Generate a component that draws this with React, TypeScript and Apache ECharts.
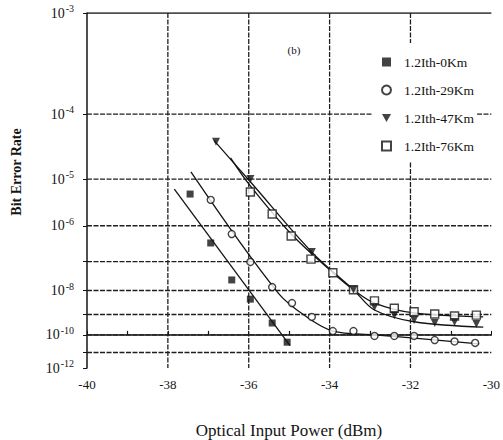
import React, { useEffect, useRef } from "react";
import * as echarts from "echarts";

// BER axis: decades 10^-n; ordinate drawn on a log(log(-log BER)) scale
const yTickDecades = [3, 4, 5, 6, 7, 8, 9, 10, 11, 12];
const yLabelDecades = [3, 4, 5, 6, 8, 10, 12];
const yGridDecades = [4, 5, 6, 7, 8, 9, 10, 11];
const xGridValues = [-38, -36, -34, -32];

// measured points: optical input power (dBm) and log10(BER)
const p0 = [-37.45, -36.94, -36.42, -35.96, -35.42, -35.05];
const b0 = [-5.29, -6.45, -7.61, -8.34, -9.4, -10.4];

const p29 = [-36.94, -36.42, -35.96, -35.42, -34.93, -34.44, -33.92, -33.41, -32.89, -32.4, -31.91, -31.4, -30.91, -30.4];
const b29 = [-5.41, -6.21, -7.01, -7.87, -8.5, -9.11, -9.8, -9.8, -10.06, -10.06, -10.06, -10.28, -10.36, -10.44];

const p47 = [-36.81, -35.96, -34.44, -33.41, -32.89, -32.4, -31.91, -31.4, -30.91, -30.37];
const b47 = [-4.38, -5.0, -6.71, -7.97, -8.67, -9.03, -9.26, -9.4, -9.35, -9.45];

const p76 = [-35.96, -35.42, -34.95, -34.46, -33.92, -33.41, -32.89, -32.4, -31.91, -31.4, -30.91, -30.37];
const b76 = [-5.25, -5.72, -6.26, -6.92, -7.36, -7.97, -8.41, -8.72, -8.88, -8.98, -9.07, -9.03];

// fitted curves
const fp0 = [-37.84, -34.98];
const fb0 = [-5.19, -10.6];
const fp29 = [-37.43, -35.27, -34.53, -33.92, -32.89, -31.35, -30.3];
const fb29 = [-4.87, -8.1, -9.16, -9.8, -10.0, -10.28, -10.5];
const fp47 = [-36.86, -35.96, -34.44, -33.41, -32.89, -31.91, -30.2];
const fb47 = [-4.36, -5.05, -6.71, -7.97, -8.8, -9.34, -9.6];
const fp76 = [-36.45, -35.96, -34.95, -33.92, -33.41, -32.89, -31.91, -30.2];
const fb76 = [-4.63, -5.13, -6.21, -7.36, -7.97, -8.5, -8.93, -9.11];

const names = ["1.2Ith-0Km", "1.2Ith-29Km", "1.2Ith-47Km", "1.2Ith-76Km"];

const X_MIN = -40;
const X_MAX = -30;

const tr = (n: number) => Math.log10(Math.log10(n)); // n = -log10(BER)
const yv = (e: number) => tr(-e);
const pts = (p: number[], b: number[]) => p.map((x, i) => [x, yv(b[i])]);

const SERIF = "'Liberation Serif', 'DejaVu Serif', serif";
const INK = "#141414";
const gridStyle = { color: "#1e1e1e", width: 1.3, type: [5, 1.5] as any };

export default function App() {
  const ref = useRef<HTMLDivElement>(null);
  useEffect(() => {
    if (!ref.current) return;
    const chart = echarts.init(ref.current, null, { renderer: "svg" });
    const fitLine = (name: string, p: number[], b: number[]) => ({
      name,
      type: "line",
      data: pts(p, b),
      showSymbol: false,
      symbol: "none",
      smooth: 0.35,
      lineStyle: { color: INK, width: 1.3 },
      silent: true,
      z: 3,
    });
    const rule = (name: string, data: number[][], style: any) => ({
      name,
      type: "line",
      data,
      symbol: "none",
      showSymbol: false,
      silent: true,
      lineStyle: style,
      z: 1,
    });
    const rules = [
      ...yGridDecades.map((n) =>
        rule("h" + n, [[X_MIN, tr(n)], [X_MAX, tr(n)]], gridStyle)
      ),
      rule("top", [[X_MIN, tr(3)], [X_MAX, tr(3)]], { color: INK, width: 1.5, type: "solid" }),
      ...xGridValues.map((x) =>
        rule("v" + x, [[x, tr(3)], [x, tr(12)]], gridStyle)
      ),
    ];
    const option: any = {
      animation: false,
      backgroundColor: "#fff",
      grid: { left: 87, right: 8, top: 13, bottom: 72 },
      xAxis: {
        type: "value",
        min: X_MIN,
        max: X_MAX,
        interval: 2,
        axisLine: { lineStyle: { color: INK, width: 1.5 } },
        axisTick: { show: true, inside: true, length: 4, lineStyle: { color: INK } },
        minorTick: { show: true, splitNumber: 2, length: 4, lineStyle: { color: INK, width: 1.2 } },
        splitLine: { show: false },
        axisLabel: { fontFamily: SERIF, fontSize: 13, color: INK, margin: 10 },
      },
      yAxis: {
        type: "value",
        inverse: true,
        min: tr(3),
        max: tr(12),
        axisLine: { show: true, lineStyle: { color: INK, width: 1.5 } },
        axisTick: {
          show: true,
          length: 4,
          customValues: yTickDecades.map(tr),
          lineStyle: { color: INK },
        },
        splitLine: { show: false },
        axisLabel: {
          customValues: yLabelDecades.map(tr),
          margin: 13,
          color: INK,
          fontFamily: SERIF,
          fontSize: 14,
          formatter: (v: number) => {
            const n = Math.round(Math.pow(10, Math.pow(10, v)));
            return "10{s|-" + n + "}";
          },
          rich: {
            s: { fontSize: 10, fontFamily: SERIF, color: INK, padding: [0, 0, 9, 1] },
          },
        },
      },
      legend: {
        data: names,
        orient: "vertical",
        left: 373,
        top: 43,
        padding: [12, 3, 8, 8],
        itemGap: 14,
        itemWidth: 9,
        itemHeight: 9,
        backgroundColor: "#fff",
        textStyle: { fontFamily: SERIF, fontSize: 13.5, color: INK, padding: [0, 0, 0, 8] },
      },
      graphic: [
        {
          type: "text",
          x: 294,
          y: 50,
          style: { text: "(b)", font: "11px " + SERIF, fill: INK, textAlign: "center", textVerticalAlign: "middle" },
        },
        {
          type: "text",
          x: 16,
          y: 172,
          rotation: Math.PI / 2,
          style: { text: "Bit Error Rate", font: "bold 14px " + SERIF, fill: INK, textAlign: "center", textVerticalAlign: "middle" },
        },
        {
          type: "text",
          x: 289,
          y: 430,
          style: { text: "Optical Input Power (dBm)", font: "17px " + SERIF, fill: INK, textAlign: "center", textVerticalAlign: "middle" },
        },
      ],
      series: [
        ...rules,
        fitLine("fit0", fp0, fb0),
        fitLine("fit29", fp29, fb29),
        fitLine("fit47", fp47, fb47),
        fitLine("fit76", fp76, fb76),
        {
          name: names[0],
          type: "scatter",
          data: pts(p0, b0),
          symbol: "rect",
          symbolSize: 7,
          itemStyle: { color: INK },
          z: 5,
        },
        {
          name: names[1],
          type: "scatter",
          data: pts(p29, b29),
          symbol: "circle",
          symbolSize: 7,
          itemStyle: { color: "#fff", borderColor: INK, borderWidth: 1.4 },
          z: 5,
        },
        {
          name: names[3],
          type: "scatter",
          data: pts(p76, b76),
          symbol: "rect",
          symbolSize: 8,
          itemStyle: { color: "#fff", borderColor: INK, borderWidth: 1.4 },
          z: 5,
        },
        {
          name: names[2],
          type: "scatter",
          data: pts(p47, b47),
          symbol: "path://M0,0L10,0L5,9Z",
          symbolSize: [8, 8],
          itemStyle: { color: INK },
          z: 6,
        },
      ],
    };
    chart.setOption(option);
    return () => chart.dispose();
  }, []);
  return <div ref={ref} style={{ width: 503, height: 440, position: "absolute", left: 0, top: 0 }} />;
}
